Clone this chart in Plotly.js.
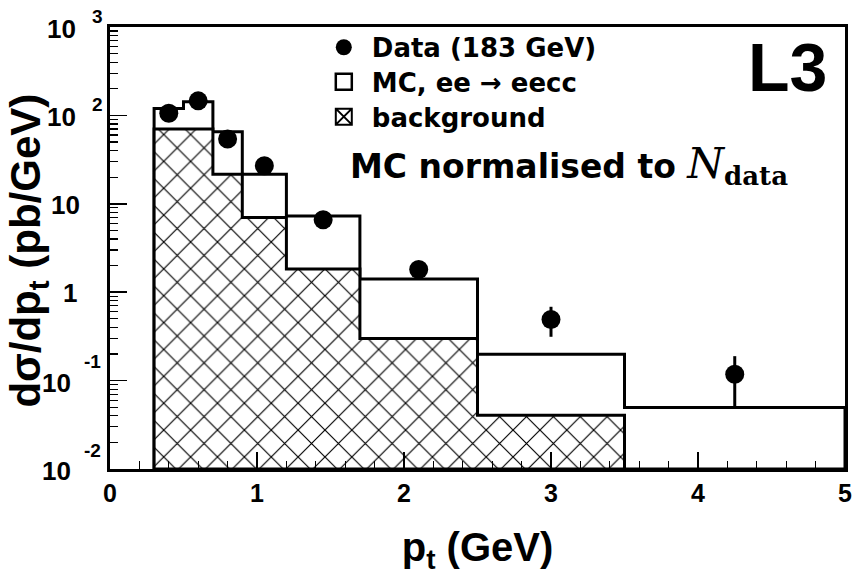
<!DOCTYPE html>
<html><head><meta charset="utf-8">
<script src="https://cdn.plot.ly/plotly-3.0.1.min.js"></script>
<style>html,body{margin:0;padding:0;background:#fff}#chart{width:852px;height:576px}</style>
</head><body><div id="chart"></div>
<script>
// ---- data ----
const binEdges   = [0.3, 0.5, 0.7, 0.9, 1.2, 1.7, 2.5, 3.5, 5.0];
const mcValues   = [120, 143, 65.5, 21.6, 7.3, 1.41, 0.199, 0.0495];
const bgValues   = [70.3, 70.3, 21.6, 7.0, 1.83, 0.30, 0.0406];
const dataX      = [0.4, 0.6, 0.8, 1.05, 1.45, 2.1, 3.0, 4.25];
const dataY      = [106, 146, 54, 27, 6.6, 1.81, 0.49, 0.118];
const dataErrUp  = [8, 10, 5, 2.5, 0.8, 0.25, 0.194, 0.071];
const dataErrDn  = [8, 10, 5, 2.5, 0.8, 0.25, 0.177, 0.068];
const yTickVals  = [0.01, 0.1, 1, 10, 100, 1000];
const yTickBase  = ['10', '10', '1', '10', '10', '10'];
const yTickExp   = ['-2', '-1', '', '', '2', '3'];
const xTickVals  = [0, 1, 2, 3, 4, 5];
const xTickText  = ['0', '1', '2', '3', '4', '5'];
const yFloor = 0.01; // bottom of the log axis

function stepPolygon(edges, vals, floor) {
  const xs = [edges[0]], ys = [floor];
  vals.forEach((v, i) => { xs.push(edges[i], edges[i + 1]); ys.push(v, v); });
  xs.push(edges[vals.length]); ys.push(floor);
  xs.push(edges[0]); ys.push(floor);
  return { xs, ys };
}
const mcPoly = stepPolygon(binEdges, mcValues, yFloor);
const bgPoly = stepPolygon(binEdges, bgValues, yFloor);

const FONT = 'Liberation Sans, Arial, Helvetica, sans-serif';
const WIDE = 'DejaVu Sans, Liberation Sans, sans-serif';

const traces = [
  { type: 'scatter', mode: 'lines', x: mcPoly.xs, y: mcPoly.ys, fill: 'toself',
    fillcolor: 'white', line: { color: 'black', width: 3 }, showlegend: false, hoverinfo: 'skip' },
  { type: 'scatter', mode: 'lines', x: bgPoly.xs, y: bgPoly.ys, fill: 'toself',
    fillcolor: 'white',
    fillpattern: { shape: 'x', size: 19, solidity: 0.12, fgcolor: 'black', bgcolor: 'white', fillmode: 'replace' },
    line: { color: 'black', width: 3 }, showlegend: false, hoverinfo: 'skip' },
  { type: 'scatter', mode: 'markers', x: dataX, y: dataY, name: 'Data (183 GeV)', legend: 'legend',
    marker: { color: 'black', size: 19, symbol: 'circle' },
    error_y: { type: 'data', symmetric: false, array: dataErrUp, arrayminus: dataErrDn,
               color: 'black', thickness: 3, width: 0 } },
  { type: 'scatter', mode: 'markers', x: [null], y: [null], name: 'MC, ee \u2192 eecc', legend: 'legend2',
    marker: { symbol: 'square-open', size: 16, color: 'black', line: { width: 2.5, color: 'black' } } },
  { type: 'scatter', mode: 'markers', x: [null], y: [null], name: 'background', legend: 'legend3',
    marker: { symbol: 'square-x-open', size: 16, color: 'black', line: { width: 2, color: 'black' } } }
];

const legFont = { family: WIDE, size: 26, color: 'black', weight: 'bold' };
function legendAt(yPaper) {
  return { x: 0.280, y: yPaper, xanchor: 'left', yanchor: 'middle', bgcolor: 'rgba(0,0,0,0)',
           borderwidth: 0, itemwidth: 46, font: legFont };
}

// ROOT-style y tick labels: base "10" at the tick, exponent raised to the upper right
const PLOT_L = 110, PLOT_W = 735;
const px2paper = px => (px - PLOT_L) / PLOT_W;
const tickAnns = [];
yTickVals.forEach((v, i) => {
  const exp = yTickExp[i];
  const neg = exp.startsWith('-');
  const baseRight = exp === '' ? (yTickBase[i] === '1' ? 79 : 82) : (neg ? 73 : 78);
  tickAnns.push({ xref: 'paper', yref: 'y', x: px2paper(baseRight), y: Math.log10(v),
    xanchor: 'right', yanchor: 'middle', yshift: exp === '' ? -1 : -2, showarrow: false,
    text: yTickBase[i], font: { family: FONT, size: 26, weight: 'bold', color: 'black' } });
  if (exp !== '') {
    tickAnns.push({ xref: 'paper', yref: 'y', x: px2paper(neg ? 82 : 90), y: Math.log10(v),
      xanchor: 'left', yanchor: 'middle', yshift: neg ? 19 : 11, showarrow: false,
      text: exp, font: { family: FONT, size: 19, weight: 'bold', color: 'black' } });
  }
});

const layout = {
  width: 852, height: 576,
  margin: { l: 110, r: 7, t: 27, b: 107 },
  paper_bgcolor: 'white', plot_bgcolor: 'white',
  font: { family: FONT, color: 'black', weight: 'bold' },
  showlegend: true,
  legend: legendAt(0.954),
  legend2: legendAt(0.876),
  legend3: legendAt(0.797),
  xaxis: {
    type: 'linear', range: [0, 5], showgrid: false, zeroline: false,
    showline: true, linewidth: 3, linecolor: 'black', mirror: true,
    ticks: 'inside', tickvals: xTickVals, ticktext: xTickText, ticklen: 17, tickwidth: 1.5, tickcolor: 'black',
    minor: { ticks: 'inside', dtick: 0.2, ticklen: 8, tickwidth: 1.2, tickcolor: 'black', showgrid: false },
    tickfont: { family: FONT, size: 25, weight: 'bold' }, ticklabelstandoff: 0, ticklabeloverflow: 'allow',
    title: { text: 'p<sub>t</sub> (GeV)', font: { family: FONT, size: 40, weight: 'bold' }, standoff: 27 }
  },
  yaxis: {
    type: 'log', range: [-2, 3], showgrid: false, zeroline: false,
    showline: true, linewidth: 3, linecolor: 'black', mirror: true,
    ticks: 'inside', tickvals: yTickVals, showticklabels: false, ticklen: 17, tickwidth: 1.5, tickcolor: 'black',
    minor: { ticks: 'inside', dtick: 'D1', ticklen: 8, tickwidth: 1.2, tickcolor: 'black', showgrid: false }
  },
  annotations: tickAnns.concat([
    { xref: 'paper', yref: 'paper', x: px2paper(28.5), y: 0.493, xanchor: 'center', yanchor: 'middle',
      textangle: -90, showarrow: false, borderpad: 0, text: 'd\u03c3/dp<sub>t</sub> (pb/GeV)',
      font: { family: FONT, size: 42, weight: 'bold', color: 'black' } },
    { xref: 'paper', yref: 'paper', x: 0.922, y: 0.909, xanchor: 'center', yanchor: 'middle',
      text: 'L3', showarrow: false, font: { family: FONT, size: 68, weight: 'bold', color: 'black' } },
    { xref: 'paper', yref: 'paper', x: 0.624, y: 0.688, xanchor: 'center', yanchor: 'middle', showarrow: false,
      text: 'MC normalised to <span style="font-family:\'DejaVu Serif\',serif;font-style:italic;font-weight:normal;font-size:42px">N</span><sub><span style="font-family:\'DejaVu Serif\',serif;font-weight:bold;font-size:26px">data</span></sub>',
      font: { family: WIDE, size: 33, weight: 'bold', color: 'black' } }
  ])
};

Plotly.newPlot('chart', traces, layout, { staticPlot: true, displayModeBar: false });
</script>
</body></html>
